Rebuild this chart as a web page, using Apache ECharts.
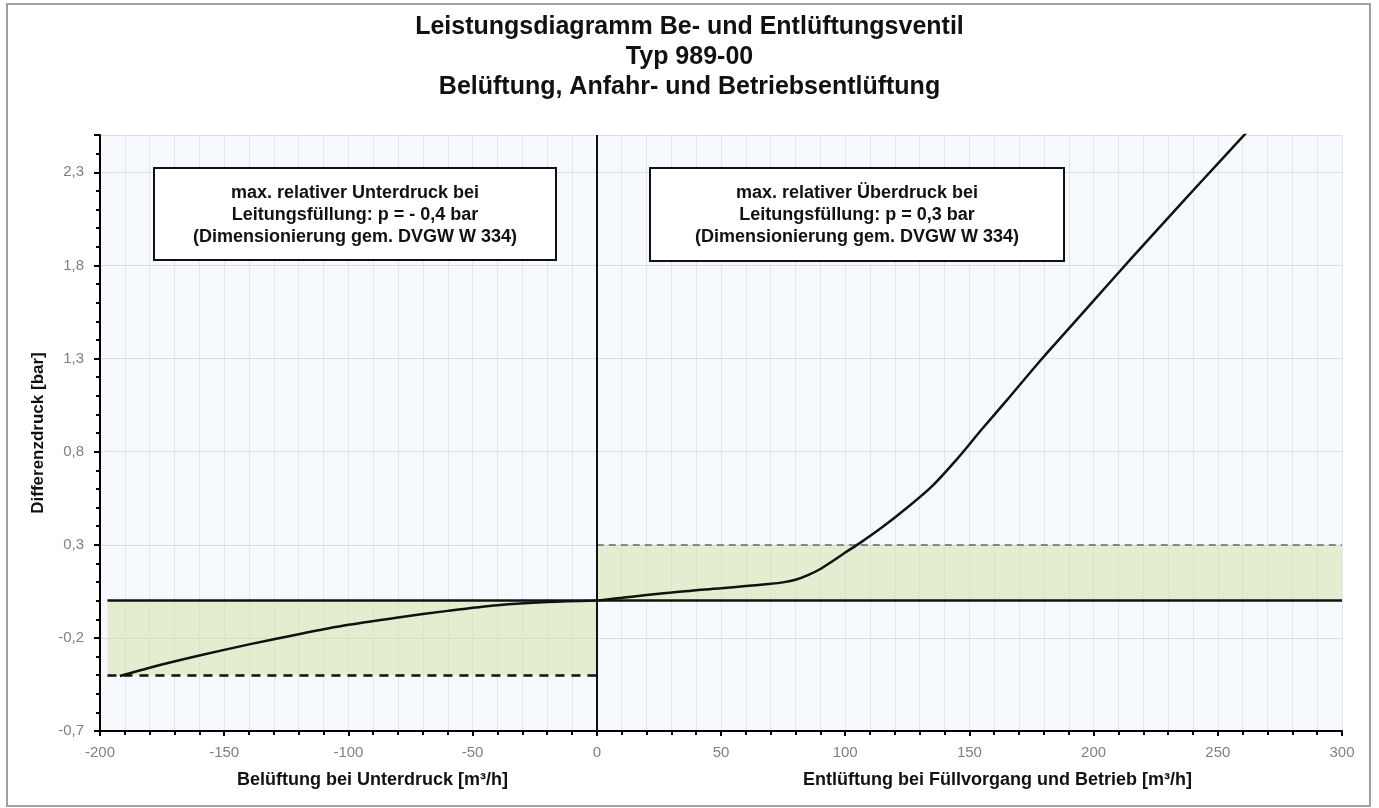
<!DOCTYPE html>
<html><head><meta charset="utf-8">
<script src="https://cdn.jsdelivr.net/npm/echarts@6/dist/echarts.min.js"></script>
<style>html,body{margin:0;padding:0;background:#fff}#c{width:1379px;height:808px}</style>
</head><body><div id="c"></div>
<script>
const titleLines = ['Leistungsdiagramm Be- und Entlüftungsventil', 'Typ 989-00', 'Belüftung, Anfahr- und Betriebsentlüftung'];
const yAxisTitle = 'Differenzdruck [bar]';
const xTitleLeft = 'Belüftung bei Unterdruck [m³/h]';
const xTitleRight = 'Entlüftung bei Füllvorgang und Betrieb [m³/h]';
const boxLeft = ['max. relativer Unterdruck bei', 'Leitungsfüllung: p = - 0,4 bar', '(Dimensionierung gem. DVGW W 334)'];
const boxRight = ['max. relativer Überdruck bei', 'Leitungsfüllung: p = 0,3 bar', '(Dimensionierung gem. DVGW W 334)'];

// axis ranges / ticks
const xMin = -200, xMax = 300, xStep = 50;
const yMin = -0.7, yMax = 2.5, yStep = 0.5;

// Belüftung (vacuum side) curve
const ventX = [-192, -180, -160, -140, -120, -100, -80, -60, -40, -20, 0];
const ventY = [-0.405, -0.36, -0.295, -0.235, -0.18, -0.13, -0.09, -0.055, -0.025, -0.008, 0];

// Entlüftung (venting side) curve
const ventOutX = [0, 10, 20, 30, 40, 50, 60, 70, 75, 80, 85, 90, 95, 100, 106, 115, 125, 135, 145, 155, 165, 178, 190, 202, 215, 230, 243, 262];
const ventOutY = [0, 0.015, 0.03, 0.043, 0.056, 0.066, 0.078, 0.09, 0.098, 0.112, 0.137, 0.17, 0.213, 0.258, 0.31, 0.395, 0.5, 0.615, 0.76, 0.92, 1.075, 1.28, 1.46, 1.64, 1.835, 2.055, 2.245, 2.52];

// limit values
const bandStartX = -197;
const maxUnderPressure = -0.4;
const maxOverPressure = 0.3;

const FONT = '"Liberation Sans", Arial, sans-serif';
const chart = echarts.init(document.getElementById('c'));

const leftData = ventX.map((x, i) => [x, ventY[i]]);
const rightData = ventOutX.map((x, i) => [x, ventOutY[i]]);

chart.setOption({
  animation: false,
  backgroundColor: '#fff',
  textStyle: { fontFamily: FONT },
  title: {
    text: titleLines.join('\n'),
    left: 'center', top: 7,
    textStyle: { fontFamily: FONT, fontSize: 25, fontWeight: 'bold', color: '#111', lineHeight: 30 }
  },
  grid: { left: 100, right: 37, top: 135, bottom: 77, show: true, backgroundColor: '#f6f9fd', borderWidth: 0 },
  xAxis: {
    type: 'value', min: xMin, max: xMax, interval: xStep,
    axisLine: { onZero: false, lineStyle: { color: '#000', width: 2 } },
    axisTick: { lineStyle: { color: '#000', width: 2 }, length: 5 },
    minorTick: { show: true, splitNumber: 5, length: 4, lineStyle: { color: '#000', width: 2 } },
    axisLabel: { color: '#808080', fontSize: 15, margin: 14, fontFamily: FONT },
    splitLine: { show: true, lineStyle: { color: '#e3e7ec', width: 1 } },
    minorSplitLine: { show: true, lineStyle: { color: '#e3e7ec', width: 1 } }
  },
  yAxis: {
    type: 'value', min: yMin, max: yMax, interval: yStep,
    name: yAxisTitle, nameLocation: 'middle', nameGap: 52, nameRotate: 90,
    nameTextStyle: { fontFamily: FONT, fontSize: 17, fontWeight: 'bold', color: '#111' },
    axisLine: { onZero: false, lineStyle: { color: '#000', width: 2 } },
    axisTick: { lineStyle: { color: '#000', width: 2 }, length: 6 },
    minorTick: { show: true, splitNumber: 5, length: 4, lineStyle: { color: '#000', width: 2 } },
    axisLabel: { color: '#808080', fontSize: 15, margin: 16, fontFamily: FONT, showMaxLabel: false,
      formatter: v => v.toFixed(1).replace('.', ',') },
    splitLine: { show: true, lineStyle: { color: '#d9dde1', width: 1 } }
  },
  series: [
    {
      type: 'line', name: 'Belüftung', data: leftData, symbol: 'none', smooth: 0.3,
      lineStyle: { color: '#111', width: 2.5 }, z: 5,
      markArea: {
        silent: true,
        itemStyle: { color: 'rgba(214,228,170,0.55)' },
        data: [
          [{ coord: [bandStartX, 0] }, { coord: [0, maxUnderPressure] }],
          [{ coord: [0, maxOverPressure] }, { coord: [xMax, 0] }]
        ]
      },
      markLine: {
        silent: true, symbol: ['none', 'none'], label: { show: false },
        data: [
          [{ coord: [bandStartX, maxUnderPressure], lineStyle: { color: '#111', width: 2.5, type: [9, 7] } },
           { coord: [0, maxUnderPressure] }],
          [{ coord: [0, maxOverPressure], lineStyle: { color: '#666', width: 1.5, type: [7, 5] } },
           { coord: [xMax, maxOverPressure] }],
          [{ coord: [bandStartX, 0], lineStyle: { color: '#111', width: 2.5, type: 'solid' } },
           { coord: [xMax, 0] }],
          { xAxis: 0, lineStyle: { color: '#111', width: 2, type: 'solid' } }
        ]
      }
    },
    {
      type: 'line', name: 'Entlüftung', data: rightData, symbol: 'none', smooth: 0.3,
      lineStyle: { color: '#111', width: 2.5 }, z: 5, clip: true
    }
  ],
  graphic: [
    { type: 'rect', shape: { x: 7, y: 4, width: 1363, height: 802 }, style: { fill: 'none', stroke: '#a0a0a0', lineWidth: 2 }, silent: true, z: 0 },
    { type: 'rect', shape: { x: 154, y: 168, width: 402, height: 92 }, style: { fill: '#fff', stroke: '#111', lineWidth: 2 }, z: 10 },
    { type: 'text', x: 355, y: 215, style: { text: boxLeft.join('\n'), font: 'bold 18px ' + FONT, fill: '#111', textAlign: 'center', textVerticalAlign: 'middle', lineHeight: 22 }, z: 11 },
    { type: 'rect', shape: { x: 650, y: 168, width: 414, height: 93 }, style: { fill: '#fff', stroke: '#111', lineWidth: 2 }, z: 10 },
    { type: 'text', x: 857, y: 215, style: { text: boxRight.join('\n'), font: 'bold 18px ' + FONT, fill: '#111', textAlign: 'center', textVerticalAlign: 'middle', lineHeight: 22 }, z: 11 },
    { type: 'text', x: 237, y: 780, style: { text: xTitleLeft, font: 'bold 18px ' + FONT, fill: '#111', textAlign: 'left', textVerticalAlign: 'middle' }, z: 11 },
    { type: 'text', x: 803, y: 780, style: { text: xTitleRight, font: 'bold 18px ' + FONT, fill: '#111', textAlign: 'left', textVerticalAlign: 'middle' }, z: 11 }
  ]
});
</script>
</body></html>
